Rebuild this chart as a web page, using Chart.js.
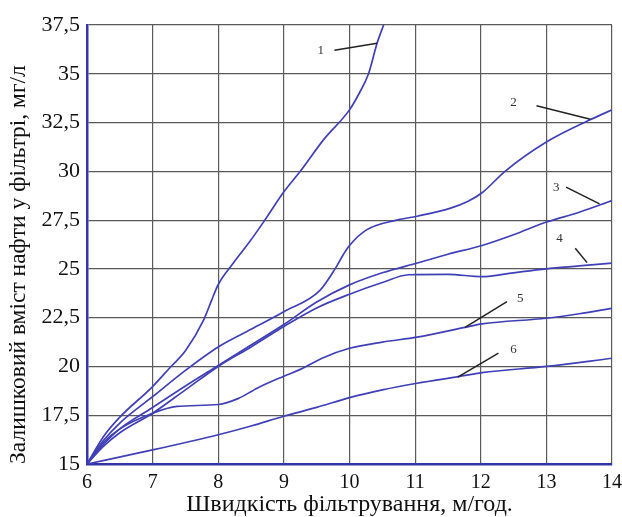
<!DOCTYPE html>
<html>
<head>
<meta charset="utf-8">
<script src="https://cdn.jsdelivr.net/npm/chart.js@4/dist/chart.umd.min.js"></script>
<style>
  html, body { margin: 0; padding: 0; background: #fff; }
  #wrap { width: 622px; height: 517px; }
</style>
</head>
<body>
<div id="wrap"><canvas id="chart" width="622" height="517"></canvas></div>
<script>
// криві 1..6: [швидкість, вміст]
const curve1 = [[6,15],[6.25,16.4],[6.5,17.4],[7,18.97],[7.27,19.96],[7.5,20.8],[7.78,22.4],[7.9,23.4],[8,24.2],[8.23,25.3],[8.48,26.4],[8.71,27.5],[9,28.95],[9.25,30],[9.6,31.6],[10,33.15],[10.14,33.95],[10.29,35],[10.42,36.57],[10.52,37.5]];
const curve2 = [[6,15],[6.25,16.2],[6.5,17.1],[7,18.45],[7.5,19.8],[8,21],[8.5,21.9],[9,22.8],[9.55,23.9],[9.78,25],[9.9,25.7],[10,26.2],[10.26,27],[10.72,27.5],[11.03,27.7],[11.53,28.1],[11.8,28.45],[12.02,28.9],[12.37,30],[13,31.5],[13.64,32.6],[14,33.15]];
const curve3 = [[6,15],[6.25,16.0],[6.5,16.8],[7,17.9],[7.5,19.0],[8,20.05],[8.5,21.1],[9,22.15],[9.5,23.3],[10,24.18],[10.5,24.8],[11.03,25.3],[11.5,25.75],[12.02,26.2],[12.5,26.75],[13,27.4],[13.5,27.9],[14,28.5]];
const curve4 = [[6,15],[6.25,15.9],[6.5,16.6],[7,17.6],[7.5,18.8],[8,20],[8.5,21],[9,22.05],[9.5,23],[10,23.7],[10.5,24.3],[10.9,24.7],[11.5,24.72],[12.02,24.6],[12.5,24.8],[13,25],[13.5,25.15],[14,25.3]];
const curve5 = [[6,15],[6.25,16.1],[6.5,16.8],[7,17.6],[7.37,17.95],[8,18.05],[8.3,18.35],[8.6,18.9],[9,19.5],[9.25,19.85],[9.6,20.45],[10,20.93],[10.5,21.25],[11.03,21.5],[11.76,22],[12.02,22.18],[13,22.47],[13.5,22.7],[14,22.98]];
const curve6 = [[6,15],[7,15.72],[8,16.5],[8.5,16.95],[9,17.45],[9.5,17.9],[10,18.4],[10.5,18.8],[11.03,19.14],[11.66,19.48],[12.02,19.68],[13,20],[14,20.42]];

const curveNames = ["1", "2", "3", "4", "5", "6"];
const xTicks = [6, 7, 8, 9, 10, 11, 12, 13, 14];
const yTicks = [15, 17.5, 20, 22.5, 25, 27.5, 30, 32.5, 35, 37.5];

// номери кривих з виносками (в одиницях осей)
const labelPos = [[9.56,36.2],[12.5,33.5],[13.15,29.17],[13.2,26.57],[12.6,23.5],[12.5,20.85]];
const leaderFrom = [[9.77,36.2],[12.85,33.36],[13.3,29.19],[13.44,26.06],[12.4,23.32],[12.27,20.68]];
const leaderTo = [[10.42,36.57],[13.67,32.67],[13.81,28.33],[13.62,25.32],[11.76,22.0],[11.65,19.45]];

const lineColor = "#4040b6";
const curves = [curve1, curve2, curve3, curve4, curve5, curve6];

const leaders = {
    id: "leaders",
    afterDatasetsDraw(chart) {
        const c = chart.ctx;
        const xs = chart.scales.x, ys = chart.scales.y;
        c.save();
        c.strokeStyle = "#222";
        c.lineWidth = 1.5;
        c.fillStyle = "#333";
        c.font = "13px 'Liberation Serif', serif";
        c.textAlign = "center";
        c.textBaseline = "middle";
        for (let i = 0; i < curveNames.length; i++) {
            c.beginPath();
            c.moveTo(xs.getPixelForValue(leaderFrom[i][0]), ys.getPixelForValue(leaderFrom[i][1]));
            c.lineTo(xs.getPixelForValue(leaderTo[i][0]), ys.getPixelForValue(leaderTo[i][1]));
            c.stroke();
            c.fillText(curveNames[i], xs.getPixelForValue(labelPos[i][0]), ys.getPixelForValue(labelPos[i][1]));
        }
        c.restore();
    }
};

const ctx = document.getElementById("chart").getContext("2d");
new Chart(ctx, {
    type: "line",
    data: {
        datasets: curves.map((pts, i) => ({
            label: curveNames[i],
            data: pts.map(p => ({ x: p[0], y: p[1] })),
            borderColor: lineColor,
            borderWidth: 1.7,
            pointRadius: 0,
            fill: false,
            tension: 0.4,
            cubicInterpolationMode: "monotone",
        })),
    },
    options: {
        responsive: false,
        animation: false,
        layout: { padding: { top: 25, right: 0, left: 0, bottom: 0 } },
        plugins: { legend: { display: false }, tooltip: { enabled: false } },
        scales: {
            x: {
                type: "linear",
                min: 6,
                max: 14,
                afterBuildTicks: s => { s.ticks = xTicks.map(v => ({ value: v })); },
                afterFit: s => { s.height = 53; s.paddingLeft = 0; s.paddingRight = 10; },
                grid: { color: "#5a5a5a", lineWidth: 1.2, drawTicks: false },
                border: { color: "#3535a8", width: 2.5 },
                ticks: {
                    padding: 7,
                    color: "#111",
                    font: { family: "'Liberation Serif', serif", size: 20 },
                },
                title: {
                    display: true,
                    text: "Швидкість фільтрування, м/год.",
                    color: "#111",
                    font: { family: "'Liberation Serif', serif", size: 24, lineHeight: 1 },
                    padding: { top: 0, bottom: 0 },
                },
            },
            y: {
                type: "linear",
                min: 15,
                max: 37.5,
                afterBuildTicks: s => { s.ticks = yTicks.map(v => ({ value: v })); },
                afterFit: s => { s.width = 87; },
                grid: { color: "#5a5a5a", lineWidth: 1.2, drawTicks: false },
                border: { color: "#3535a8", width: 2.5 },
                ticks: {
                    padding: 7,
                    color: "#111",
                    font: { family: "'Liberation Serif', serif", size: 22 },
                    callback: v => String(v).replace(".", ","),
                },
                title: {
                    display: true,
                    text: "Залишковий вміст нафти у фільтрі, мг/л",
                    align: "start",
                    color: "#111",
                    font: { family: "'Liberation Serif', serif", size: 23.5, lineHeight: 1 },
                    padding: { top: 7, bottom: 0 },
                },
            },
        },
    },
    plugins: [leaders],
});
</script>
</body>
</html>
